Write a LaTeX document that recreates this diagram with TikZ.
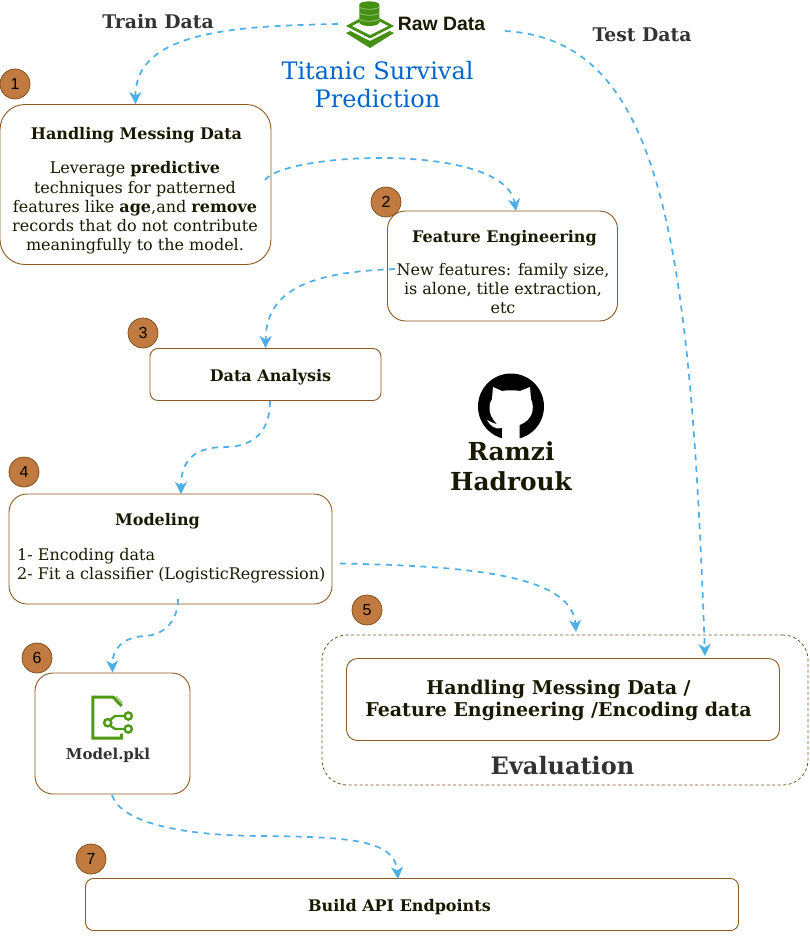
\documentclass[tikz,border=0pt]{standalone}
\usepackage{fontspec}
\setmainfont{DejaVu Serif}
\newfontfamily\numfont{Liberation Sans}
\usetikzlibrary{arrows.meta}
\definecolor{edgeblue}{HTML}{4DAEE8}
\definecolor{boxbrown}{HTML}{8B5A20}
\definecolor{badge}{HTML}{C17A3F}
\definecolor{inktext}{HTML}{191900}
\definecolor{graytext}{HTML}{333333}
\definecolor{titleblue}{HTML}{0066CC}
\definecolor{icongreen}{HTML}{4E9A15}
\definecolor{dbgreen}{HTML}{458F12}
\tikzset{
 x=1pt,y=-1pt,
 box/.style={draw=boxbrown,line width=0.9pt,fill=white,inner sep=0pt},
 badgenode/.style={circle,draw=boxbrown!85!black,line width=0.7pt,fill=badge,minimum size=30pt,inner sep=0pt,text=black,font=\numfont\fontsize{16}{16}\selectfont},
 link/.style={draw=edgeblue,line width=1.7pt,dash pattern=on 6pt off 5.5pt,-{Stealth[length=12pt,width=12pt,inset=3.5pt,color=edgeblue]}},
 heading/.style={text=inktext,font=\fontsize{16}{18}\selectfont\bfseries,inner sep=0pt},
 bodytext/.style={text=inktext,font=\fontsize{16}{19.3}\selectfont,align=center,inner sep=0pt},
 graylabel/.style={text=graytext,font=\fontsize{18.8}{22}\selectfont\bfseries,inner sep=0pt},
}
\begin{document}
\begin{tikzpicture}
\useasboundingbox (0,0) rectangle (809,939);
\fill[white] (0,0) rectangle (809,939);
% boxes
\node[box,rounded corners=25pt,minimum width=271pt,minimum height=160pt] (b1) at (135.5,184.5) {};
\node[box,rounded corners=18pt,minimum width=230pt,minimum height=110pt] (b2) at (502.5,266) {};
\node[box,rounded corners=8pt,minimum width=231pt,minimum height=52pt] (b3) at (265.5,374.5) {};
\node[box,rounded corners=18pt,minimum width=323pt,minimum height=110pt] (b4) at (170.5,549) {};
\node[box,rounded corners=18pt,minimum width=155pt,minimum height=121pt] (b6) at (112.5,733.5) {};
\node[draw=boxbrown!90!black,line width=0.8pt,dash pattern=on 3pt off 2.5pt,rounded corners=25pt,minimum width=486pt,minimum height=150pt,inner sep=0pt] (ev) at (565,710) {};
\node[box,rounded corners=11pt,minimum width=433pt,minimum height=82pt] (b5) at (563,699.5) {};
\node[box,rounded corners=8pt,minimum width=653pt,minimum height=52pt] (b7) at (412,904.5) {};
% badges
\node[badgenode] (n1) at (15,84) {1};
\node[badgenode] (n2) at (386,202) {2};
\node[badgenode] (n3) at (143,333) {3};
\node[badgenode] (n4) at (24,472) {4};
\node[badgenode] (n5) at (367,610) {5};
\node[badgenode] (n6) at (37,658) {6};
\node[badgenode] (n7) at (91,859) {7};
% top labels
\node[graylabel] (train) at (158,21.5) {Train Data};
\node[graylabel] (test) at (642,35) {Test Data};
\node[text=inktext,font=\numfont\fontsize{19.4}{22}\selectfont\bfseries,inner sep=0pt] (raw) at (441.5,24) {Raw Data};
\node[text=titleblue,font=\fontsize{24}{28}\selectfont,align=center,inner sep=0pt] (title) at (377.5,85) {Titanic Survival\\Prediction};
% box texts
\node[heading] (t1) at (136.5,134.7) {Handling Messing Data};
\node[bodytext] (d1) at (135,208) {Leverage \textbf{predictive}\\techniques for patterned\\features like \textbf{age},and \textbf{remove}\\records that do not contribute\\meaningfully to the model.};
\node[heading] (t2) at (504.5,237.7) {Feature Engineering};
\node[bodytext] (d2) at (503,288.7) {New features: family size,\\is alone, title extraction,\\etc};
\node[heading] (t3) at (270.5,376.7) {Data Analysis};
\node[heading] (t4) at (157.5,520.7) {Modeling};
\node[bodytext,align=left,anchor=west] (d4) at (17,565.7) {1- Encoding data\\2- Fit a classifier (LogisticRegression)};
\node[text=graytext,font=\fontsize{15}{18}\selectfont\bfseries,inner sep=0pt] (pkl) at (108,755) {Model.pkl};
\node[text=inktext,font=\fontsize{19}{22.5}\selectfont\bfseries,align=center,inner sep=0pt] (t5) at (558.5,700.3) {Handling Messing Data /\\Feature Engineering /Encoding data};
\node[text=graytext,font=\fontsize{24}{28}\selectfont\bfseries,inner sep=0pt] (evl) at (562.5,766) {Evaluation};
\node[text=inktext,font=\fontsize{24.8}{30}\selectfont\bfseries,align=center,inner sep=0pt] (author) at (511,466) {Ramzi\\Hadrouk};
\node[text=inktext,font=\fontsize{16}{18}\selectfont\bfseries,inner sep=0pt] (t7) at (399.5,906.7) {Build API Endpoints};
% connector ends
\coordinate (rawL) at (338,24);
\coordinate (rawR) at (505,31);
\coordinate (b1R) at (265,180);
\coordinate (b2T) at (516,211);
\coordinate (b2L) at (395,269);
\coordinate (b3B) at (270,401);
\coordinate (b4T) at (181,494);
\coordinate (b4R) at (340,563.5);
\coordinate (evT) at (576,632);
\coordinate (b4B) at (178,599);
\coordinate (b6B) at (112,795);
\coordinate (b7T) at (398,879);
\coordinate (evT2) at (705,656);
% connectors
\draw[link] (rawL) .. controls (240,26) and (135,30) .. (b1.north);
\draw[link] (b1R) .. controls (285,152) and (505,142) .. (b2T);
\draw[link] (b2L) .. controls (320,272) and (266,285) .. (b3.north);
\draw[link] (b3B) .. controls (270,430) and (255,447) .. (225,447) .. controls (195,447) and (181,460) .. (b4T);
\draw[link] (b4R) .. controls (470,566) and (572,575) .. (evT);
\draw[link] (b4B) .. controls (178,620) and (165,635) .. (145,636) .. controls (122,637) and (112,650) .. (b6.north);
\draw[link] (b6B) .. controls (122,825) and (190,836) .. (265,836) .. controls (350,837) and (395,840) .. (b7T);
\draw[link] (rawR) .. controls (660,40) and (690,230) .. (evT2);
% database icon
\fill[dbgreen] (346,26) -- (370,13) -- (394,26) -- (370,38.5) -- cycle;
\fill[white] (352,26) -- (370,17) -- (388,26) -- (370,35) -- cycle;
\fill[dbgreen] (346,33) -- (350.5,31) -- (370,41) -- (389.5,31) -- (394,33) -- (370,48) -- cycle;
\fill[dbgreen] (359.3,4) .. controls (362,0.5) and (376.5,0.5) .. (379.3,4) -- (379.3,23) .. controls (376.5,27) and (362,27) .. (359.3,23) -- cycle;
\draw[icongreen!60!white,line width=0.8pt] (359.3,7) .. controls (362,10) and (376.5,10) .. (379.3,7);
\draw[icongreen!60!white,line width=0.8pt] (359.3,13) .. controls (362,16) and (376.5,16) .. (379.3,13);
\draw[icongreen!60!white,line width=0.8pt] (359.3,19) .. controls (362,22) and (376.5,22) .. (379.3,19);
% github logo
\begin{scope}
\clip (470,370) rectangle (552,440);
\fill[black] (511,406.5) circle (33);
\fill[white] (493,387) -- (502,391) .. controls (507,390) and (515,390) .. (520,391) -- (530,387) -- (531,399)
 .. controls (535,408) and (533,420) .. (519.5,425) -- (519.5,442) -- (502,442) -- (502,428) .. controls (496,430) and (490,426) .. (487,420)
 .. controls (491,422) and (495,424) .. (497,424) .. controls (493,420) and (488,414) .. (490,403) -- (492,399) -- cycle;
\end{scope}
% model icon
\begin{scope}[draw=icongreen,line width=3pt]
\draw (121.7,706) -- (113,697) -- (92.8,697) -- (92.8,738) -- (121.7,738) -- (121.7,733.5);
\draw[icongreen!60!white,line width=1.2pt] (116,696) -- (122.5,703);
\draw[line width=2.4pt] (110,720) -- (115,716) -- (125,716);
\draw[line width=2.4pt] (110,725.5) -- (115,729) -- (125,729);
\draw[line width=2.4pt,fill=white] (128.3,716) circle (3.6);
\draw[line width=2.4pt,fill=white] (128.3,729) circle (3.6);
\draw[line width=2.4pt,fill=white] (107.7,722.7) circle (3.6);
\end{scope}
\end{tikzpicture}
\end{document}
